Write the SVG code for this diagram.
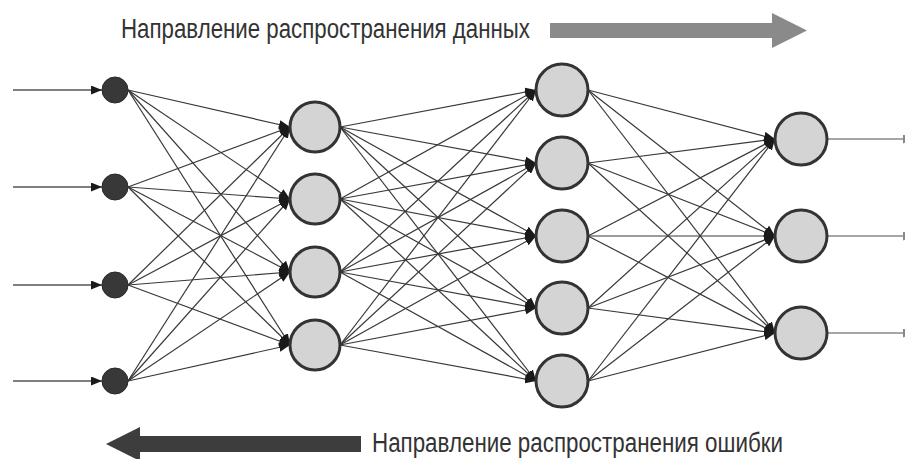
<svg xmlns="http://www.w3.org/2000/svg" width="905" height="459" viewBox="0 0 905 459">
<defs>
<style>
.c{stroke:#383838;stroke-width:1.2;fill:none;marker-end:url(#ah)}
.io{stroke:#555;stroke-width:1.4;fill:none;marker-end:url(#ah)}
.out{stroke:#888;stroke-width:1.6;fill:none;marker-end:url(#ah2)}
.in{fill:#383838;stroke:#2a2a2a;stroke-width:1}
.n{fill:#d4d4d4;stroke:#333;stroke-width:3}
.t{font-family:"Liberation Sans",Arial,sans-serif;font-size:27px;fill:#333}
</style>
<marker id="ah" markerUnits="userSpaceOnUse" markerWidth="11" markerHeight="9" refX="11" refY="4.5" orient="auto"><path d="M0,0 L11,4.5 L0,9 z" fill="#1a1a1a"/></marker>
<marker id="ah2" markerUnits="userSpaceOnUse" markerWidth="11" markerHeight="9" refX="11" refY="4.5" orient="auto"><path d="M0,0 L11,4.5 L0,9 z" fill="#888"/></marker>
</defs>
<rect width="905" height="459" fill="#fff"/>
<g id="legend">
<text class="t" x="121" y="38" textLength="409" lengthAdjust="spacingAndGlyphs">Направление распространения данных</text>
<path d="M550,23 L772,23 L772,13 L807,30.5 L772,48 L772,38 L550,38 z" fill="#8a8a8a"/>
<text class="t" x="372" y="452" textLength="411" lengthAdjust="spacingAndGlyphs">Направление распространения ошибки</text>
<path d="M361,436 L140,436 L140,427 L106,444 L140,461 L140,452 L361,452 z" fill="#3d3d3d"/>
</g>
<g id="connectors">
<path class="io" d="M13,90 L102,90"/>
<path class="io" d="M13,187 L102,187"/>
<path class="io" d="M13,285 L102,285"/>
<path class="io" d="M13,381 L102,381"/>
<path class="c" d="M128,90 L290,127"/><path class="c" d="M128,90 L290,199"/><path class="c" d="M128,90 L290,272"/><path class="c" d="M128,90 L290,345"/>
<path class="c" d="M128,187 L290,127"/><path class="c" d="M128,187 L290,199"/><path class="c" d="M128,187 L290,272"/><path class="c" d="M128,187 L290,345"/>
<path class="c" d="M128,285 L290,127"/><path class="c" d="M128,285 L290,199"/><path class="c" d="M128,285 L290,272"/><path class="c" d="M128,285 L290,345"/>
<path class="c" d="M128,381 L290,127"/><path class="c" d="M128,381 L290,199"/><path class="c" d="M128,381 L290,272"/><path class="c" d="M128,381 L290,345"/>
<path class="c" d="M340,127 L536,90"/><path class="c" d="M340,127 L536,163"/><path class="c" d="M340,127 L536,236"/><path class="c" d="M340,127 L536,308"/><path class="c" d="M340,127 L536,381"/>
<path class="c" d="M340,199 L536,90"/><path class="c" d="M340,199 L536,163"/><path class="c" d="M340,199 L536,236"/><path class="c" d="M340,199 L536,308"/><path class="c" d="M340,199 L536,381"/>
<path class="c" d="M340,272 L536,90"/><path class="c" d="M340,272 L536,163"/><path class="c" d="M340,272 L536,236"/><path class="c" d="M340,272 L536,308"/><path class="c" d="M340,272 L536,381"/>
<path class="c" d="M340,345 L536,90"/><path class="c" d="M340,345 L536,163"/><path class="c" d="M340,345 L536,236"/><path class="c" d="M340,345 L536,308"/><path class="c" d="M340,345 L536,381"/>
<path class="c" d="M588,90 L775,139"/><path class="c" d="M588,90 L775,236"/><path class="c" d="M588,90 L775,333"/>
<path class="c" d="M588,163 L775,139"/><path class="c" d="M588,163 L775,236"/><path class="c" d="M588,163 L775,333"/>
<path class="c" d="M588,236 L775,139"/><path class="c" d="M588,236 L775,236"/><path class="c" d="M588,236 L775,333"/>
<path class="c" d="M588,308 L775,139"/><path class="c" d="M588,308 L775,236"/><path class="c" d="M588,308 L775,333"/>
<path class="c" d="M588,381 L775,139"/><path class="c" d="M588,381 L775,236"/><path class="c" d="M588,381 L775,333"/>
<path class="out" d="M827,139 L914,139"/>
<path class="out" d="M827,236 L914,236"/>
<path class="out" d="M827,333 L914,333"/>
</g>
<g id="input-1"><circle class="in" cx="115" cy="90" r="13"/></g>
<g id="input-2"><circle class="in" cx="115" cy="187" r="13"/></g>
<g id="input-3"><circle class="in" cx="115" cy="285" r="13"/></g>
<g id="input-4"><circle class="in" cx="115" cy="381" r="13"/></g>
<g id="hidden1-1"><circle class="n" cx="315" cy="127" r="25"/></g>
<g id="hidden1-2"><circle class="n" cx="315" cy="199" r="25"/></g>
<g id="hidden1-3"><circle class="n" cx="315" cy="272" r="25"/></g>
<g id="hidden1-4"><circle class="n" cx="315" cy="345" r="25"/></g>
<g id="hidden2-1"><circle class="n" cx="562" cy="90" r="26"/></g>
<g id="hidden2-2"><circle class="n" cx="562" cy="163" r="26"/></g>
<g id="hidden2-3"><circle class="n" cx="562" cy="236" r="26"/></g>
<g id="hidden2-4"><circle class="n" cx="562" cy="308" r="26"/></g>
<g id="hidden2-5"><circle class="n" cx="562" cy="381" r="26"/></g>
<g id="output-1"><circle class="n" cx="801" cy="139" r="26"/></g>
<g id="output-2"><circle class="n" cx="801" cy="236" r="26"/></g>
<g id="output-3"><circle class="n" cx="801" cy="333" r="26"/></g>
</svg>
